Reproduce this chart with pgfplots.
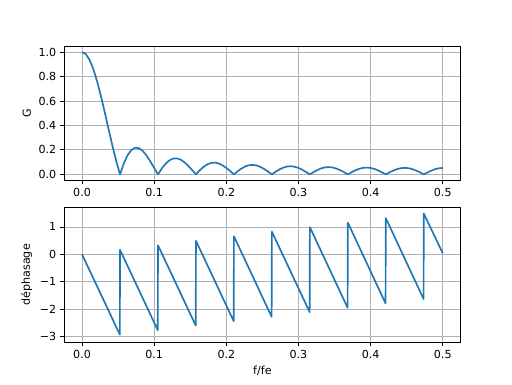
\documentclass[border=0pt]{standalone}
\usepackage{fontspec}
\setmainfont{DejaVu Sans}
\usepackage{pgfplots}
\pgfplotsset{compat=1.18}
\definecolor{c0}{HTML}{1F77B4}
\definecolor{gridc}{HTML}{B0B0B0}
\begin{document}
\fontsize{11.1}{13}\selectfont
\begin{tikzpicture}
\path[use as bounding box] (0pt,0pt) rectangle (512pt,384pt);
\pgfplotsset{every axis/.append style={scale only axis, width=396.8pt, height=134.5pt,
  anchor=south west, xmin=-0.025, xmax=0.525,
  tick align=outside, xtick pos=bottom, ytick pos=left,
  major tick length=3.9pt,
  axis line style={line width=0.89pt},
  every tick/.style={black, line width=0.89pt},
  tick label style={font=\fontsize{11.1}{13}\selectfont},
  label style={font=\fontsize{11.1}{13}\selectfont},
  xtick={0,0.1,0.2,0.3,0.4,0.5},
  xticklabels={0.0,0.1,0.2,0.3,0.4,0.5},
  grid=major, grid style={gridc, line width=0.89pt}}}
\begin{axis}[at={(64pt,203.5pt)}, ymin=-0.05, ymax=1.05,
  ytick={0,0.2,0.4,0.6,0.8,1}, yticklabels={0.0,0.2,0.4,0.6,0.8,1.0},
  ylabel={G}]
\addplot[c0, line width=1.67pt, line join=round] coordinates {
(0,1) (0.005263,0.9837) (0.010526,0.93566) (0.015789,0.85875) (0.021053,0.75738)
(0.026316,0.63734) (0.031579,0.50538) (0.036842,0.36870) (0.042105,0.23456) (0.047368,0.10970)
(0.052632,0)
(0.057895,0.08992) (0.063158,0.15694) (0.068421,0.19962) (0.073684,0.21818) (0.078947,0.21440)
(0.084211,0.19143) (0.089474,0.15349) (0.094737,0.10549) (0.1,0.05263) (0.105263,0)
(0.110526,0.04779) (0.115789,0.08695) (0.121053,0.11471) (0.126316,0.12951) (0.131579,0.13102)
(0.136842,0.12010) (0.142105,0.09862) (0.147368,0.06927) (0.152632,0.03525) (0.157895,0)
(0.163158,0.03316) (0.168421,0.06129) (0.173684,0.08205) (0.178947,0.09391) (0.184211,0.09623)
(0.189474,0.08927) (0.194737,0.07414) (0.2,0.05263) (0.205263,0.02706) (0.210526,0)
(0.215789,0.02593) (0.221053,0.04834) (0.226316,0.06525) (0.231579,0.07527) (0.236842,0.07771)
(0.242105,0.07261) (0.247368,0.06072) (0.252632,0.04339) (0.257895,0.02245) (0.263158,0)
(0.268421,0.02178) (0.273684,0.04083) (0.278947,0.05541) (0.284211,0.06427) (0.289474,0.06669)
(0.294737,0.06263) (0.3,0.05263) (0.305263,0.03779) (0.310526,0.01964) (0.315789,0)
(0.321053,0.01922) (0.326316,0.03619) (0.331579,0.04932) (0.336842,0.05744) (0.342105,0.05984)
(0.347368,0.05642) (0.352632,0.04759) (0.357895,0.03430) (0.363158,0.01789) (0.368421,0)
(0.373684,0.01763) (0.378947,0.03332) (0.384211,0.04556) (0.389474,0.05323) (0.394737,0.05565)
(0.4,0.05263) (0.405263,0.04454) (0.410526,0.03220) (0.415789,0.01685) (0.421053,0)
(0.426316,0.01671) (0.431579,0.03166) (0.436842,0.04343) (0.442105,0.05089) (0.447368,0.05336)
(0.452632,0.05062) (0.457895,0.04295) (0.463158,0.03114) (0.468421,0.01634) (0.473684,0)
(0.478947,0.01630) (0.484211,0.03097) (0.489474,0.04260) (0.494737,0.05006) (0.5,0.05263)
};
\end{axis}
\begin{axis}[at={(64pt,42pt)}, ymin=-3.2, ymax=1.71,
  ytick={-3,-2,-1,0,1}, yticklabels={−3,−2,−1,0,1},
  ylabel={déphasage}, xlabel={f/fe}]
\addplot[c0, line width=1.67pt, line join=round] coordinates {
(0,0) (0.0524,-2.93) (0.05263,0.165)
(0.1050,-2.77) (0.10526,0.331)
(0.1576,-2.60) (0.15789,0.496)
(0.2102,-2.44) (0.21053,0.661)
(0.2628,-2.28) (0.26316,0.827)
(0.3155,-2.11) (0.31579,0.992)
(0.3681,-1.95) (0.36842,1.157)
(0.4207,-1.79) (0.42105,1.323)
(0.4734,-1.63) (0.47368,1.488)
(0.5,0.04)
};
\end{axis}
\end{tikzpicture}
\end{document}
